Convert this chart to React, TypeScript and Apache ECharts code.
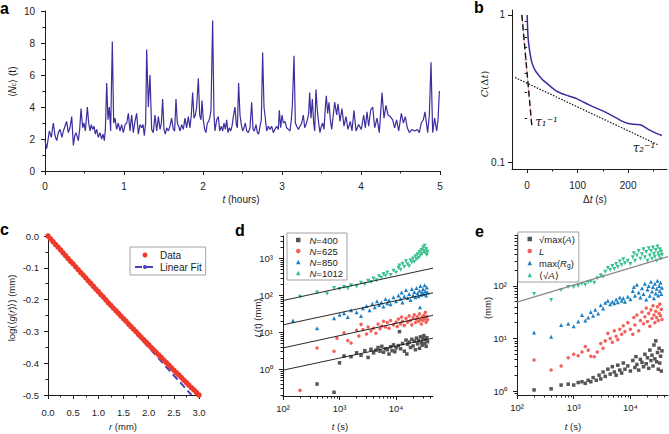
import React, { useEffect, useRef } from 'react';
import * as echarts from 'echarts';

// ---------- Panel a: <Nc>(t) vs t (hours) ----------
const aSeries: [number, number][] = [
  [0.000,1.9],[0.021,1.4],[0.055,2.5],[0.080,2.1],[0.105,3.0],[0.127,2.2],[0.148,1.9],[0.169,2.4],[0.190,2.6],[0.215,2.1],
  [0.232,2.5],[0.253,2.8],[0.274,3.1],[0.295,2.4],[0.316,2.7],[0.338,3.4],[0.359,1.6],[0.376,2.2],[0.392,2.4],[0.422,1.9],
  [0.439,2.6],[0.456,3.9],[0.477,2.7],[0.494,3.0],[0.511,2.5],[0.536,4.0],[0.553,3.0],[0.570,2.5],[0.586,2.9],[0.603,2.6],
  [0.620,2.8],[0.637,2.3],[0.654,2.6],[0.675,2.1],[0.696,2.4],[0.717,2.0],[0.734,2.3],[0.751,1.9],[0.764,2.6],[0.781,5.5],
  [0.797,3.2],[0.814,4.0],[0.831,2.5],[0.852,8.1],[0.869,3.0],[0.886,3.3],[0.907,2.6],[0.928,3.0],[0.949,2.5],[0.970,2.9],
  [0.992,2.4],[1.013,2.9],[1.034,3.0],[1.055,3.6],[1.076,2.5],[1.097,3.5],[1.118,2.4],[1.139,3.1],[1.160,3.6],[1.181,2.3],
  [1.203,2.9],[1.224,2.7],[1.241,2.9],[1.257,2.2],[1.274,3.0],[1.287,7.6],[1.308,4.0],[1.329,6.0],[1.350,2.6],[1.371,2.4],
  [1.392,3.5],[1.414,2.5],[1.435,3.4],[1.456,2.6],[1.473,3.0],[1.489,4.5],[1.506,2.6],[1.523,2.3],[1.540,2.7],[1.561,2.5],
  [1.582,2.8],[1.603,3.3],[1.624,2.6],[1.641,2.5],[1.658,4.5],[1.675,3.0],[1.692,2.8],[1.709,2.5],[1.730,2.9],[1.751,2.6],
  [1.772,3.3],[1.793,2.7],[1.814,3.4],[1.835,2.7],[1.852,3.5],[1.869,4.9],[1.886,3.3],[1.903,3.5],[1.920,4.0],[1.941,5.8],
  [1.958,3.5],[1.975,3.2],[1.987,4.4],[2.004,3.2],[2.021,2.6],[2.038,2.4],[2.055,3.0],[2.072,3.1],[2.089,3.4],[2.101,3.8],
  [2.122,9.4],[2.139,3.5],[2.152,2.5],[2.173,3.2],[2.194,3.4],[2.211,2.5],[2.232,2.8],[2.249,2.5],[2.266,3.0],[2.283,2.6],
  [2.300,3.2],[2.316,2.4],[2.333,2.7],[2.350,2.5],[2.367,2.8],[2.384,3.4],[2.405,4.0],[2.422,2.9],[2.435,2.7],[2.451,5.5],
  [2.468,3.5],[2.485,2.9],[2.502,2.5],[2.519,2.7],[2.536,3.0],[2.553,2.5],[2.574,2.4],[2.595,2.7],[2.616,4.3],[2.633,2.6],
  [2.650,2.5],[2.671,2.9],[2.688,2.4],[2.705,2.3],[2.722,2.8],[2.738,3.2],[2.755,7.4],[2.772,4.0],[2.789,3.3],[2.806,2.5],
  [2.827,2.8],[2.848,2.6],[2.869,2.8],[2.890,2.4],[2.911,2.6],[2.932,2.8],[2.954,2.6],[2.966,3.8],[2.983,2.7],[3.000,3.5],
  [3.017,3.0],[3.038,3.1],[3.059,2.7],[3.080,2.6],[3.101,2.5],[3.118,3.2],[3.131,4.1],[3.152,7.2],[3.169,3.0],[3.186,2.8],
  [3.207,2.6],[3.228,2.8],[3.249,3.0],[3.270,3.5],[3.287,2.7],[3.304,2.9],[3.321,3.2],[3.338,3.6],[3.350,4.9],[3.367,3.3],
  [3.384,4.5],[3.401,3.0],[3.414,2.5],[3.430,5.1],[3.447,3.8],[3.464,3.0],[3.481,2.4],[3.498,2.8],[3.515,3.0],[3.532,2.6],
  [3.549,4.0],[3.561,4.7],[3.578,3.6],[3.595,4.3],[3.612,3.2],[3.629,2.6],[3.667,4.3],[3.692,3.5],[3.709,4.2],[3.734,3.1],
  [3.759,3.9],[3.785,2.8],[3.810,3.4],[3.835,2.6],[3.865,3.1],[3.886,2.5],[3.911,3.8],[3.937,2.5],[3.970,2.9],[4.004,2.6],
  [4.034,3.5],[4.055,2.7],[4.076,3.7],[4.097,2.8],[4.122,3.8],[4.148,4.0],[4.173,2.7],[4.203,3.3],[4.232,2.4],[4.266,4.9],
  [4.291,3.3],[4.316,4.1],[4.342,3.5],[4.371,3.4],[4.401,3.2],[4.426,2.7],[4.451,3.2],[4.477,2.5],[4.511,3.6],[4.536,3.0],
  [4.561,3.4],[4.586,2.7],[4.612,2.4],[4.646,2.6],[4.680,2.5],[4.713,2.6],[4.738,2.4],[4.763,3.0],[4.789,3.2],[4.810,3.7],
  [4.831,2.9],[4.844,2.4],[4.865,3.5],[4.886,6.8],[4.907,2.4],[4.932,3.3],[4.958,2.5],[4.975,3.2],[4.992,5.0]
];

// ---------- Panel b: C(Δt) ----------
const bCurve: [number, number][] = [
  [0,1.0],[1,0.8],[2,0.69],[4,0.6],[6.5,0.53],[9,0.48],[13,0.44],[18,0.41],[23,0.39],[30,0.365],[36,0.35],
  [45,0.33],[56,0.308],[68,0.293],[82,0.282],[95,0.273],[108,0.26],[122,0.246],[138,0.232],[155,0.219],
  [172,0.204],[188,0.19],[200,0.183],[212,0.181],[224,0.18],[232,0.174],[240,0.167],[253,0.159],[267,0.152]
];
const bTau2Line: [number, number][] = [[-24,0.376],[260,0.131]];
const bTau1Line: [number, number][] = [[-10.5,1.0],[9.3,0.176]];
const bTauLabels = [
  { name: 'τ₁⁻¹', value: [12, 0.188] },
  { name: 'τ₂⁻¹', value: [205, 0.125] }
];
const bXLabels = [0, 100, 200];
const bXMinor = [50, 150, 250];
const bYLabels = [0.1, 1];
const bYMinor = [0.2, 0.3, 0.4, 0.5, 0.6, 0.7, 0.8, 0.9];

// ---------- Panel c: log(<g(r)>) vs r ----------
const cData: [number, number][] = [
  [0,0],[0.05,-0.009],[0.1,-0.018],[0.15,-0.027],[0.2,-0.035],[0.25,-0.044],[0.3,-0.053],[0.35,-0.062],[0.4,-0.071],
  [0.45,-0.080],[0.5,-0.088],[0.55,-0.097],[0.6,-0.106],[0.65,-0.115],[0.7,-0.123],[0.75,-0.132],[0.8,-0.141],
  [0.85,-0.149],[0.9,-0.158],[0.95,-0.167],[1.0,-0.175],[1.05,-0.184],[1.1,-0.192],[1.15,-0.201],[1.2,-0.210],
  [1.25,-0.218],[1.3,-0.227],[1.35,-0.235],[1.4,-0.243],[1.45,-0.252],[1.5,-0.260],[1.55,-0.268],[1.6,-0.277],
  [1.65,-0.285],[1.7,-0.293],[1.75,-0.301],[1.8,-0.310],[1.85,-0.318],[1.9,-0.326],[1.95,-0.334],[2.0,-0.342],
  [2.05,-0.350],[2.1,-0.358],[2.15,-0.366],[2.2,-0.374],[2.25,-0.382],[2.3,-0.390],[2.35,-0.398],[2.4,-0.406],
  [2.45,-0.414],[2.5,-0.422],[2.55,-0.430],[2.6,-0.437],[2.65,-0.445],[2.7,-0.453],[2.75,-0.461],[2.8,-0.469],
  [2.85,-0.477],[2.9,-0.484],[2.95,-0.492],[3.0,-0.5]
];
const cFit: [number, number][] = [[0,0.003],[2.85,-0.5]];

// ---------- Panel d: L(t) for several N ----------
const dN400: [number, number][] = [
  [400,0.4],[800,0.24],[1000,1.5],[1200,2.3],[1600,2.2],[2000,2.8],[2400,2.4],[2800,3.2],[3200,2.1],[3600,3.5],
  [4000,2.8],[4400,3.3],[4800,3.9],[5200,3.1],[5600,4.2],[6000,2.9],[6500,3.6],[7000,3.4],[7500,2.6],[8000,4.1],
  [8500,3.2],[9000,4.6],[9500,3.0],[10000,3.8],[11000,4.4],[11500,10.5],[12000,3.6],[13000,5.0],[14000,3.1],
  [15000,6.2],[15500,2.6],[16000,4.8],[17000,5.5],[18000,3.9],[19000,6.5],[20000,4.3],[21000,5.8],[22000,3.4],
  [23000,7.0],[24000,4.9],[25000,6.1],[26000,3.7],[27000,7.6],[28000,5.3],[29000,4.5],[30000,6.8],[31000,8.2],
  [32000,5.0],[33000,6.4],[34000,4.2],[35000,7.2],[36000,5.6]
];
const dN625: [number, number][] = [
  [200,0.27],[400,3.8],[800,3.1],[900,7.0],[1200,9.8],[1400,6.0],[1600,5.2],[2000,11.5],[2200,8.0],[2400,16.5],
  [2600,12.0],[3000,9.0],[3200,14.0],[3600,11.0],[4000,13.0],[4400,9.5],[4800,17.0],[5200,12.5],[5600,15.0],
  [6000,20.0],[6500,14.0],[7000,18.5],[7500,13.0],[8000,21.0],[9000,16.0],[10000,19.0],[10500,14.5],[11000,23.0],
  [12000,17.0],[12500,26.0],[13000,20.0],[14000,15.5],[15000,24.0],[16000,19.0],[17000,28.0],[18000,21.0],
  [19000,16.0],[20000,25.0],[21000,30.0],[22000,18.5],[23000,23.0],[24000,27.0],[25000,20.0],[26000,32.0],
  [27000,22.0],[28000,17.0],[29000,26.0],[30000,21.0],[31000,29.0],[32000,24.0],[33000,35.0],[34000,19.0],
  [35000,27.0],[36000,22.0]
];
const dN850: [number, number][] = [
  [150,21],[400,13],[800,24],[1000,30],[1200,33],[1400,26],[1600,40],[2000,35],[2400,28],[2600,45],[3000,52],
  [3400,40],[3800,60],[4200,48],[4600,70],[5000,55],[5500,65],[6000,50],[6500,80],[7000,62],[7500,74],[8000,58],
  [9000,90],[10000,70],[11000,100],[12000,82],[12500,120],[13000,65],[14000,95],[15000,140],[16000,85],[17000,110],
  [18000,75],[19000,150],[20000,100],[21000,125],[22000,90],[23000,160],[24000,115],[25000,95],[26000,135],
  [26500,48],[27000,180],[28000,105],[29000,125],[30000,150],[31000,110],[32000,190],[33000,130],[34000,100],
  [35000,165],[36000,120]
];
const dN1012: [number, number][] = [
  [200,92],[400,120],[600,112],[800,160],[1000,150],[1200,170],[1400,155],[1600,190],[2000,175],[2400,220],
  [2800,200],[3200,250],[3600,230],[4000,290],[4500,260],[5000,330],[5500,300],[6000,380],[6500,340],[7000,420],
  [8000,360],[9000,470],[10000,420],[11000,560],[11500,650],[12000,500],[13000,720],[14000,600],[15000,850],
  [16000,700],[17000,620],[18000,900],[19000,780],[20000,1000],[21000,820],[22000,1150],[23000,950],[24000,1300],
  [25000,1050],[26000,1500],[27000,1200],[28000,1700],[29000,1350],[30000,2000],[31000,1600],[32000,2200],
  [33000,1400],[34000,1800],[35000,1250],[36000,1550]
];
const dFit400: [number, number][] = [[100,0.95],[45000,7]];
const dFit625: [number, number][] = [[100,3.8],[45000,29]];
const dFit850: [number, number][] = [[100,16],[45000,118]];
const dFit1012: [number, number][] = [[100,73],[45000,550]];

// ---------- Panel e: size measures ----------
const eSqrtMaxA: [number, number][] = [
  [200,1.05],[400,1.1],[600,1.3],[800,1.35],[1000,1.3],[1200,1.45],[1400,1.5],[1600,1.4],[1800,1.6],[2000,1.5],
  [2200,1.8],[2500,1.6],[2800,2.0],[3000,1.7],[3300,2.3],[3600,1.9],[4000,2.6],[4400,2.1],[4800,2.9],[5200,2.3],
  [5600,2.0],[6000,3.1],[6500,2.5],[7000,2.2],[7500,3.4],[8000,2.6],[9000,3.0],[10000,2.4],[11000,3.8],[12000,2.8],
  [12500,4.5],[13000,3.2],[14000,2.5],[15000,4.0],[16000,3.5],[17000,2.9],[18000,5.0],[19000,3.3],[20000,4.3],
  [21000,2.7],[22000,6.0],[23000,3.8],[24000,4.8],[25000,3.0],[26000,7.5],[27000,4.1],[28000,9.0],[29000,3.6],
  [30000,5.4],[31000,2.6],[32000,6.5],[33000,3.4],[34000,4.6],[35000,2.4],[36000,5.8]
];
const eL: [number, number][] = [
  [200,3.9],[400,2.5],[600,3.0],[800,4.3],[1000,5.0],[1200,4.7],[1400,5.5],[1600,7.0],[1800,6.0],[2000,4.6],
  [2300,4.5],[2600,5.5],[3000,8.0],[3300,6.5],[3600,9.0],[4000,12.5],[4400,10.0],[4800,8.5],[5200,14.0],[5600,11.0],
  [6000,9.5],[6500,15.0],[7000,12.0],[7500,17.5],[8000,13.5],[9000,20.0],[10000,15.0],[11000,12.0],[11500,25.0],
  [12000,18.0],[13000,28.0],[14000,14.0],[15000,22.0],[16000,32.0],[17000,19.0],[18000,26.0],[19000,38.0],
  [20000,21.0],[21000,30.0],[22000,17.0],[23000,35.0],[24000,24.0],[25000,42.0],[26000,28.0],[27000,20.0],
  [28000,33.0],[29000,25.0],[30000,40.0],[31000,22.0],[32000,30.0],[33000,45.0],[34000,27.0],[35000,36.0],[36000,23.0]
];
const eMaxRg: [number, number][] = [
  [200,13],[400,10.8],[600,18],[800,19],[1000,17],[1200,21],[1400,28],[1600,22],[1800,25],[2000,32],[2200,27],
  [2400,35],[2700,30],[3000,43],[3300,37],[3600,48],[4000,52],[4400,45],[4800,50],[5200,47],[5600,55],[6000,49],
  [6500,60],[7000,52],[7500,58],[8000,50],[9000,62],[10000,56],[11000,80],[11500,95],[12000,65],[13000,105],
  [14000,75],[15000,60],[16000,90],[17000,70],[18000,110],[19000,55],[20000,85],[21000,100],[22000,65],[23000,120],
  [24000,78],[25000,95],[26000,58],[27000,110],[28000,72],[29000,88],[30000,125],[31000,66],[32000,100],[33000,80],
  [34000,115],[35000,70],[36000,92]
];
const eMeanSqrtA: [number, number][] = [
  [200,70],[400,54],[600,84],[800,95],[1000,95],[1200,100],[1400,110],[1600,105],[1800,118],[2000,121],[2300,115],
  [2600,140],[3000,160],[3300,150],[3600,185],[4000,220],[4400,200],[4800,240],[5200,210],[5600,260],[6000,230],
  [6500,290],[7000,250],[7500,320],[8000,270],[9000,300],[10000,260],[11000,350],[11500,420],[12000,300],[13000,380],
  [14000,460],[15000,330],[16000,400],[17000,500],[18000,350],[19000,440],[20000,300],[21000,520],[22000,380],
  [23000,460],[24000,330],[25000,540],[26000,410],[27000,360],[28000,480],[29000,300],[30000,560],[31000,420],
  [32000,370],[33000,500],[34000,330],[35000,450],[36000,390]
];
const eFit: [number, number][] = [[100,49],[46000,360]];

// ---------- tick lists for log axes ----------
const logXLabels = [100, 1000, 10000];
const logXMinor = [200,300,400,500,600,700,800,900,2000,3000,4000,5000,6000,7000,8000,9000,20000,30000,40000];
const dYLabels = [1, 10, 100, 1000];
const dYMinor = [0.2,0.3,0.4,0.5,0.6,0.7,0.8,0.9,2,3,4,5,6,7,8,9,20,30,40,50,60,70,80,90,200,300,400,500,600,700,800,900,2000,3000,4000];
const eYLabels = [1, 10, 100];
const eYMinor = [0.9,2,3,4,5,6,7,8,9,20,30,40,50,60,70,80,90,200,300,400,500,600,700,800,900];

const INK = '#1c1c1c';
const FONT = '"Liberation Sans", Arial, Helvetica, sans-serif';
const SERIF = '"DejaVu Serif", "Liberation Serif", serif';
const PURPLE = '#3b2e9e';
const GRAY = '#555555';
const RED = '#f2625c';
const BLUE = '#1b7fc4';
const GREEN = '#35c28e';

const SUP: Record<number, string> = { 0: '⁰', 1: '¹', 2: '²', 3: '³', 4: '⁴' };
const powLabel = (v: number) => '10' + (SUP[Math.round(Math.log10(v))] ?? '');

const lineStyleInk = { color: INK, width: 1 };

function mkAxis(gridIndex: number, type: string, extra: any) {
  const { axisLabel, axisTick, ...rest } = extra;
  return {
    type,
    gridIndex,
    axisLine: { show: true, onZero: false, lineStyle: lineStyleInk },
    axisTick: { show: true, length: 4, inside: false, lineStyle: lineStyleInk, ...(axisTick || {}) },
    splitLine: { show: false },
    minorSplitLine: { show: false },
    axisLabel: { color: INK, fontSize: 10, fontFamily: FONT, ...(axisLabel || {}) },
    ...rest
  };
}

function mkMinorAxis(gridIndex: number, type: string, position: string, min: number, max: number, values: number[]) {
  return {
    type,
    gridIndex,
    position,
    offset: 0,
    min,
    max,
    axisLine: { show: false },
    axisLabel: { show: false },
    splitLine: { show: false },
    axisTick: { show: true, length: 2.5, inside: false, customValues: values, lineStyle: lineStyleInk }
  };
}

const richBase = (size: number, family = FONT) => ({
  n: { fontSize: size, fontFamily: family, color: INK, fill: INK },
  i: { fontSize: size, fontFamily: family, fontStyle: 'italic', color: INK, fill: INK },
  s: { fontSize: size * 0.7, fontFamily: family, color: INK, fill: INK, verticalAlign: 'bottom', lineHeight: size * 0.8 }
});

function titleText(x: number, y: number, text: string, rotate = false, size = 10, family = FONT) {
  return {
    type: 'text',
    x,
    y,
    rotation: rotate ? Math.PI / 2 : 0,
    silent: true,
    style: {
      text,
      rich: richBase(size, family),
      fill: INK,
      fontSize: size,
      fontFamily: family,
      align: 'center',
      verticalAlign: 'middle'
    }
  };
}

function letter(x: number, y: number, t: string) {
  return {
    type: 'text',
    x,
    y,
    silent: true,
    style: { text: t, fill: '#000', fontSize: 16, fontWeight: 'bold', fontFamily: FONT, align: 'left', verticalAlign: 'middle' }
  };
}

const legendNames: Record<string, string> = {
  'N=400': '{i|N}=400',
  'N=625': '{i|N}=625',
  'N=850': '{i|N}=850',
  'N=1012': '{i|N}=1012',
  '√max(A)': '√max({i|A})',
  'L': '{i|L}',
  'max(Rg)': 'max({i|R}{s|g})',
  '⟨√A⟩': '⟨√{i|A}⟩',
  'Data': 'Data',
  'Linear Fit': 'Linear Fit'
};

function scatter(name: string, x: number, data: any, color: string, symbol: string, size: number, rotate = 0) {
  return {
    name,
    type: 'scatter',
    xAxisIndex: x,
    yAxisIndex: x,
    data,
    symbol,
    symbolSize: size,
    symbolRotate: rotate,
    itemStyle: { color, opacity: 1 },
    z: 3
  };
}

function fitLine(name: string, x: number, data: any, color: string, width: number, type: any = 'solid', z = 4) {
  return {
    name,
    type: 'line',
    xAxisIndex: x,
    yAxisIndex: x,
    data,
    symbol: 'none',
    showSymbol: false,
    lineStyle: { color, width, type },
    itemStyle: { color },
    z
  };
}

export default function App() {
  const ref = useRef<HTMLDivElement>(null);
  useEffect(() => {
    if (!ref.current) return;
    const chart = echarts.init(ref.current, undefined, { renderer: 'svg' });
    const legendBase = {
      orient: 'vertical',
      selectedMode: false,
      borderColor: '#8a8a8a',
      borderWidth: 0.8,
      backgroundColor: '#ffffff',
      itemGap: 0,
      formatter: (n: string) => legendNames[n] ?? n
    };
    const option: any = {
      animation: false,
      backgroundColor: '#ffffff',
      textStyle: { fontFamily: FONT },
      grid: [
        { left: 45, top: 11, width: 395, height: 160, outerBoundsMode: 'none', containLabel: false },
        { left: 512, top: 10, width: 155, height: 159, outerBoundsMode: 'none', containLabel: false },
        { left: 48, top: 236, width: 151, height: 159, outerBoundsMode: 'none', containLabel: false },
        { left: 283, top: 236, width: 150, height: 160, outerBoundsMode: 'none', containLabel: false },
        { left: 517, top: 235, width: 151, height: 160, outerBoundsMode: 'none', containLabel: false }
      ],
      xAxis: [
        mkAxis(0, 'value', { min: 0, max: 5, interval: 1, minorTick: { show: true, splitNumber: 2, length: 2.5, lineStyle: lineStyleInk }, axisLabel: { margin: 10 } }),
        mkAxis(1, 'value', { min: -30, max: 277, axisLabel: { customValues: bXLabels, margin: 11 }, axisTick: { customValues: bXLabels } }),
        mkAxis(2, 'value', { min: 0, max: 3, interval: 0.5, minorTick: { show: true, splitNumber: 2, length: 2.5, lineStyle: lineStyleInk }, axisLabel: { margin: 12, fontSize: 9.5, formatter: (v: number) => v.toFixed(1) } }),
        mkAxis(3, 'log', { min: 100, max: 45000, axisLabel: { customValues: logXLabels, margin: 7, fontSize: 9.5, formatter: powLabel }, axisTick: { customValues: logXLabels } }),
        mkAxis(4, 'log', { min: 100, max: 46000, axisLabel: { customValues: logXLabels, margin: 7, fontSize: 9.5, formatter: powLabel }, axisTick: { customValues: logXLabels } }),
        mkMinorAxis(1, 'value', 'bottom', -30, 277, bXMinor),
        mkMinorAxis(3, 'log', 'bottom', 100, 45000, logXMinor),
        mkMinorAxis(4, 'log', 'bottom', 100, 46000, logXMinor)
      ],
      yAxis: [
        mkAxis(0, 'value', { min: 0, max: 10, interval: 2, minorTick: { show: true, splitNumber: 2, length: 2.5, lineStyle: lineStyleInk }, axisLabel: { margin: 10 } }),
        mkAxis(1, 'log', { min: 0.09, max: 1.08, axisLabel: { customValues: bYLabels, margin: 7, formatter: (v: number) => String(Number(v.toPrecision(3))) }, axisTick: { customValues: bYLabels } }),
        mkAxis(2, 'value', { min: -0.5, max: 0, interval: 0.1, minorTick: { show: true, splitNumber: 2, length: 2.5, lineStyle: lineStyleInk }, axisLabel: { margin: 9, fontSize: 9.5, formatter: (v: number) => v.toFixed(1) } }),
        mkAxis(3, 'log', { min: 0.19, max: 4070, axisLabel: { customValues: dYLabels, margin: 10, fontSize: 9.5, formatter: powLabel }, axisTick: { customValues: dYLabels } }),
        mkAxis(4, 'log', { min: 0.84, max: 930, axisLabel: { customValues: eYLabels, margin: 10, fontSize: 9.5, formatter: powLabel }, axisTick: { customValues: eYLabels } }),
        mkMinorAxis(1, 'log', 'left', 0.09, 1.08, bYMinor),
        mkMinorAxis(3, 'log', 'left', 0.19, 4070, dYMinor),
        mkMinorAxis(4, 'log', 'left', 0.84, 930, eYMinor)
      ],
      legend: [
        {
          ...legendBase,
          data: ['Data', 'Linear Fit'],
          left: 130,
          top: 247,
          padding: [2, 4],
          itemWidth: 20,
          itemHeight: 5,
          textStyle: { fontSize: 10, lineHeight: 12, color: INK, fontFamily: FONT }
        },
        {
          ...legendBase,
          data: ['N=400', 'N=625', 'N=850', 'N=1012'],
          left: 287,
          top: 233,
          padding: [1.5, 4, 1.5, 9],
          itemWidth: 4.5,
          itemHeight: 4.5,
          textStyle: { fontSize: 9.5, lineHeight: 11, color: INK, fontFamily: FONT, padding: [0, 0, 0, 4], rich: richBase(9.5) }
        },
        {
          ...legendBase,
          data: ['√max(A)', 'L', 'max(Rg)', '⟨√A⟩'],
          left: 518,
          top: 232,
          padding: [1, 4, 1, 9.5],
          itemWidth: 4.5,
          itemHeight: 4.5,
          textStyle: { fontSize: 9.5, lineHeight: 12, color: INK, fontFamily: FONT, padding: [0, 0, 0, 2], rich: richBase(9.5) }
        }
      ],
      series: [
        // a
        {
          name: 'Nc', type: 'line', xAxisIndex: 0, yAxisIndex: 0, data: aSeries, symbol: 'none', showSymbol: false,
          lineStyle: { color: PURPLE, width: 1.2 }, z: 3
        },
        // b
        fitLine('bPink', 1, bTau1Line, '#f3b3c0', 1, 'solid', 2),
        fitLine('bTau1', 1, bTau1Line, '#111111', 1.4, [6, 3.5], 3),
        fitLine('bTau2', 1, bTau2Line, '#111111', 1.2, [1.5, 1.5], 3),
        {
          name: 'bCurve', type: 'line', xAxisIndex: 1, yAxisIndex: 1, data: bCurve, symbol: 'none', showSymbol: false,
          smooth: 0.3, lineStyle: { color: PURPLE, width: 1.5 }, z: 4
        },
        {
          name: 'bLabels', type: 'scatter', xAxisIndex: 1, yAxisIndex: 1, data: bTauLabels, symbol: 'circle', symbolSize: 2,
          itemStyle: { color: 'rgba(255,255,255,0)' }, z: 6,
          labelLayout: { hideOverlap: false },
          label: {
            show: true, position: 'right', distance: 1, formatter: (p: any) => p.name,
            color: INK, opacity: 1, fontSize: 12, fontFamily: SERIF, fontStyle: 'italic'
          }
        },
        // c
        fitLine('Linear Fit', 2, cFit, '#4a44b8', 2, [7, 4], 2),
        scatter('Data', 2, cData, '#ee3a2c', 'circle', 5.5),
        // d
        scatter('N=400', 3, dN400, GRAY, 'rect', 3.5),
        scatter('N=625', 3, dN625, RED, 'circle', 3.5),
        scatter('N=850', 3, dN850, BLUE, 'triangle', 4),
        scatter('N=1012', 3, dN1012, GREEN, 'triangle', 4, 180),
        fitLine('fit400', 3, dFit400, '#111111', 0.9),
        fitLine('fit625', 3, dFit625, '#111111', 0.9),
        fitLine('fit850', 3, dFit850, '#111111', 0.9),
        fitLine('fit1012', 3, dFit1012, '#111111', 0.9),
        // e
        scatter('√max(A)', 4, eSqrtMaxA, GRAY, 'rect', 3.5),
        scatter('L', 4, eL, RED, 'circle', 3.5),
        scatter('max(Rg)', 4, eMaxRg, BLUE, 'triangle', 4),
        scatter('⟨√A⟩', 4, eMeanSqrtA, GREEN, 'triangle', 4, 180),
        fitLine('eFit', 4, eFit, '#8a8a8a', 1.3, 'solid', 5)
      ],
      graphic: [
        letter(0, 8, 'a'),
        letter(474, 7, 'b'),
        letter(0, 229, 'c'),
        letter(235, 230, 'd'),
        letter(475, 231, 'e'),
        titleText(12, 82, '⟨{i|N}{s|c}⟩ (t)', true, 10),
        titleText(241, 199, '{i|t} (hours)', false, 10),
        titleText(484, 84, '{i|C}(Δ{i|t})', true, 10, SERIF),
        titleText(595, 199, 'Δ{i|t} (s)', false, 10),
        titleText(11, 308, 'log(⟨{i|g}({i|r})⟩) (mm)', true, 9.5),
        titleText(123, 426, '{i|r} (mm)', false, 9.5),
        titleText(257, 318, '{i|L}(t) (mm)', true, 9.5),
        titleText(340, 426, '{i|t} (s)', false, 9.5),
        titleText(487, 308, '(mm)', true, 9.5),
        titleText(573, 426, '{i|t} (s)', false, 9.5)
      ]
    };
    chart.setOption(option);
    return () => chart.dispose();
  }, []);
  return (
    <div
      ref={ref}
      style={{ position: 'fixed', left: 0, top: 0, width: 669, height: 434, background: '#fff' }}
    />
  );
}
